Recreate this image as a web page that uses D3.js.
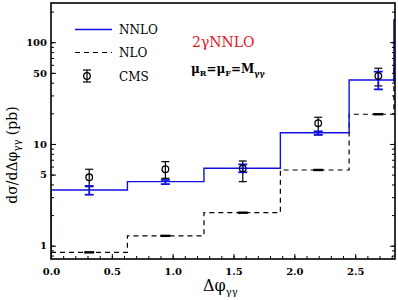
<!DOCTYPE html>
<html>
<head>
<meta charset="utf-8">
<script src="https://cdn.jsdelivr.net/npm/d3@7"></script>
<style>
  body { margin: 0; background: #fff; }
  svg { display: block; }
  text { font-family: "DejaVu Serif", serif; }
</style>
</head>
<body>
<svg></svg>
<script>
// bin edges in delta phi and the two theory histograms
let binEdges = [0, 0.628, 1.257, 1.885, 2.45, 2.818, 3.14];
let nnlo = [3.53, 4.26, 5.77, 12.9, 42.6, 166];
let nlo = [0.86, 1.25, 2.11, 5.55, 19.6, 58];

// CMS points and error bars
let pointX = [0.314, 0.94, 1.576, 2.196, 2.69];
let cms = [4.7, 5.64, 5.75, 16.0, 46.6];
let cmsLo = [3.8, 4.6, 4.26, 12.3, 37.2];
let cmsHi = [5.64, 6.7, 6.8, 18.3, 55.5];
let nnloLo = [3.17, 4.03, 5.27, 12.3, 34.4];
let nnloHi = [3.87, 4.43, 6.3, 13.3, 51.4];
let nloLo = [0.85, 1.24, 2.09, 5.5, 19.4];
let nloHi = [0.87, 1.26, 2.13, 5.6, 19.8];

let xTicks = [0, 0.5, 1.0, 1.5, 2.0, 2.5];
let yTickLabels = [1, 5, 10, 50, 100];

const w = 398;
const h = 300;
const pL = 51, pR = 395, pT = 3, pB = 259;

let svg = d3.select('svg').attr('width', w).attr('height', h);

let xScale = d3.scaleLinear().domain([0, 2.827]).range([pL, pR]);
let yScale = d3.scaleLog().domain([0.74, 243]).range([pB, pT]);

svg.append('clipPath').attr('id', 'clip')
   .append('rect')
   .attr('x', pL).attr('y', pT)
   .attr('width', pR - pL).attr('height', pB - pT);

let plot = svg.append('g').attr('clip-path', 'url(#clip)');

let stepLine = d3.line()
    .x(d => xScale(d[0]))
    .y(d => yScale(d[1]))
    .curve(d3.curveStepAfter);

let stepPoints = (vals, startLow) => {
    let pts = [];
    if (startLow) pts.push([0, 0.5]);
    vals.forEach((v, i) => pts.push([binEdges[i], v]));
    pts.push([binEdges[binEdges.length - 1], vals[vals.length - 1]]);
    return pts;
}

plot.append('path')
    .attr('d', stepLine(stepPoints(nlo, false)))
    .attr('fill', 'none')
    .attr('stroke', '#000')
    .attr('stroke-width', 1.2)
    .attr('stroke-dasharray', '5,4');

plot.append('path')
    .attr('d', stepLine(stepPoints(nnlo, true)))
    .attr('fill', 'none')
    .attr('stroke', '#1010e0')
    .attr('stroke-width', 1.4);

// NLO small bands
plot.selectAll('.nloerr')
    .data(pointX)
    .enter()
    .append('rect')
    .attr('x', d => xScale(d) - 5)
    .attr('width', 10)
    .attr('y', (d, i) => Math.min(yScale(nloHi[i]), yScale(nlo[i]) - 1.2))
    .attr('height', (d, i) => Math.max(yScale(nloLo[i]) - yScale(nloHi[i]), 2.4))
    .attr('fill', '#000');

let errorBars = (g, lo, hi, color, sw, cap) => {
    pointX.forEach((d, i) => {
        let x = xScale(d);
        g.append('line')
         .attr('x1', x).attr('x2', x)
         .attr('y1', yScale(lo[i])).attr('y2', yScale(hi[i]))
         .attr('stroke', color).attr('stroke-width', sw);
        [lo[i], hi[i]].forEach(v => {
            g.append('line')
             .attr('x1', x - cap).attr('x2', x + cap)
             .attr('y1', yScale(v)).attr('y2', yScale(v))
             .attr('stroke', color).attr('stroke-width', sw);
        });
    });
}

errorBars(plot, cmsLo, cmsHi, '#000', 1.2, 4);
errorBars(plot, nnloLo, nnloHi, '#1010e0', 1.8, 4.5);

plot.selectAll('.cms')
    .data(pointX)
    .enter()
    .append('circle')
    .attr('cx', d => xScale(d))
    .attr('cy', (d, i) => yScale(cms[i]))
    .attr('r', 3.3)
    .attr('fill', 'none')
    .attr('stroke', '#000')
    .attr('stroke-width', 1.3);

// axes with inward ticks
let minorX = d3.range(0, 29).map(i => i / 10);
let yMinor = [];
[0.1, 1, 10, 100].forEach(dec => {
    for (let k = 1; k < 10; k++) {
        let v = dec * k;
        if (v >= 0.74 && v <= 243) yMinor.push(v);
    }
});

let xMinorAxis = d3.axisBottom(xScale).tickValues(minorX).tickSize(-3).tickFormat('');
let xMajorAxis = d3.axisBottom(xScale).tickValues(xTicks).tickSize(-5)
    .tickFormat(d3.format('.1f')).tickPadding(9);

svg.append('g').attr('transform', `translate(0, ${pB})`).call(xMinorAxis);
svg.append('g').attr('transform', `translate(0, ${pB})`).call(xMajorAxis);

let yMinorL = d3.axisLeft(yScale).tickValues(yMinor).tickSize(-3).tickFormat('');
let yMajorL = d3.axisLeft(yScale).tickValues(yTickLabels).tickSize(-5)
    .tickFormat(d3.format('d')).tickPadding(4);
svg.append('g').attr('transform', `translate(${pL}, 0)`).call(yMinorL);
svg.append('g').attr('transform', `translate(${pL}, 0)`).call(yMajorL);

let yMinorR = d3.axisRight(yScale).tickValues(yMinor).tickSize(-3).tickFormat('');
let yMajorR = d3.axisRight(yScale).tickValues([1, 10, 100]).tickSize(-5).tickFormat('');
svg.append('g').attr('transform', `translate(${pR}, 0)`).call(yMinorR);
svg.append('g').attr('transform', `translate(${pR}, 0)`).call(yMajorR);

svg.selectAll('.domain').remove();
svg.selectAll('.tick line').attr('stroke', '#000').attr('stroke-width', 1);
svg.selectAll('.tick text')
   .attr('font-family', '"DejaVu Serif", serif')
   .attr('font-weight', 'bold')
   .attr('font-size', 10)
   .attr('fill', '#000');

svg.append('rect')
   .attr('x', pL).attr('y', pT)
   .attr('width', pR - pL).attr('height', pB - pT)
   .attr('fill', 'none').attr('stroke', '#000').attr('stroke-width', 1.6);

// legend
let lg = svg.append('g');
lg.append('line').attr('x1', 75).attr('x2', 112).attr('y1', 29.5).attr('y2', 29.5)
  .attr('stroke', '#1010e0').attr('stroke-width', 1.4);
lg.append('line').attr('x1', 75).attr('x2', 112).attr('y1', 52.5).attr('y2', 52.5)
  .attr('stroke', '#000').attr('stroke-width', 1.2).attr('stroke-dasharray', '5,4');
lg.append('line').attr('x1', 87).attr('x2', 87).attr('y1', 70).attr('y2', 82)
  .attr('stroke', '#000').attr('stroke-width', 1.2);
[70, 82].forEach(y => lg.append('line').attr('x1', 83).attr('x2', 91).attr('y1', y).attr('y2', y)
  .attr('stroke', '#000').attr('stroke-width', 1.2));
lg.append('circle').attr('cx', 87).attr('cy', 76).attr('r', 3.3)
  .attr('fill', 'none').attr('stroke', '#000').attr('stroke-width', 1.3);
[['NNLO', 34], ['NLO', 57], ['CMS', 80.5]].forEach(t => {
    lg.append('text').attr('x', 119).attr('y', t[1]).text(t[0])
      .attr('font-size', 12).attr('fill', '#000');
});

svg.append('text').attr('x', 192).attr('y', 47).text('2γNNLO')
   .attr('font-size', 14).attr('fill', '#e8141c');

let mu = svg.append('text').attr('x', 191).attr('y', 73).attr('font-size', 12)
   .attr('font-weight', 'bold').attr('fill', '#000');
mu.append('tspan').text('μ');
mu.append('tspan').text('R').attr('font-size', 8).attr('dy', 3);
mu.append('tspan').text('=μ').attr('dy', -3);
mu.append('tspan').text('F').attr('font-size', 8).attr('dy', 3);
mu.append('tspan').text('=M').attr('dy', -3);
mu.append('tspan').text('γγ').attr('font-size', 8).attr('dy', 3);

let xl = svg.append('text').attr('x', 203).attr('y', 291).attr('font-size', 16).attr('fill', '#000');
xl.append('tspan').text('Δφ');
xl.append('tspan').text('γγ').attr('font-size', 10).attr('dy', 4);

let yl = svg.append('text')
   .attr('transform', 'translate(17, 155) rotate(-90)')
   .attr('text-anchor', 'middle')
   .attr('font-size', 14).attr('fill', '#000');
yl.append('tspan').text('dσ/dΔφ');
yl.append('tspan').text('γγ').attr('font-size', 10).attr('dy', 3);
yl.append('tspan').text(' (pb)').attr('dy', -3);
</script>
</body>
</html>
